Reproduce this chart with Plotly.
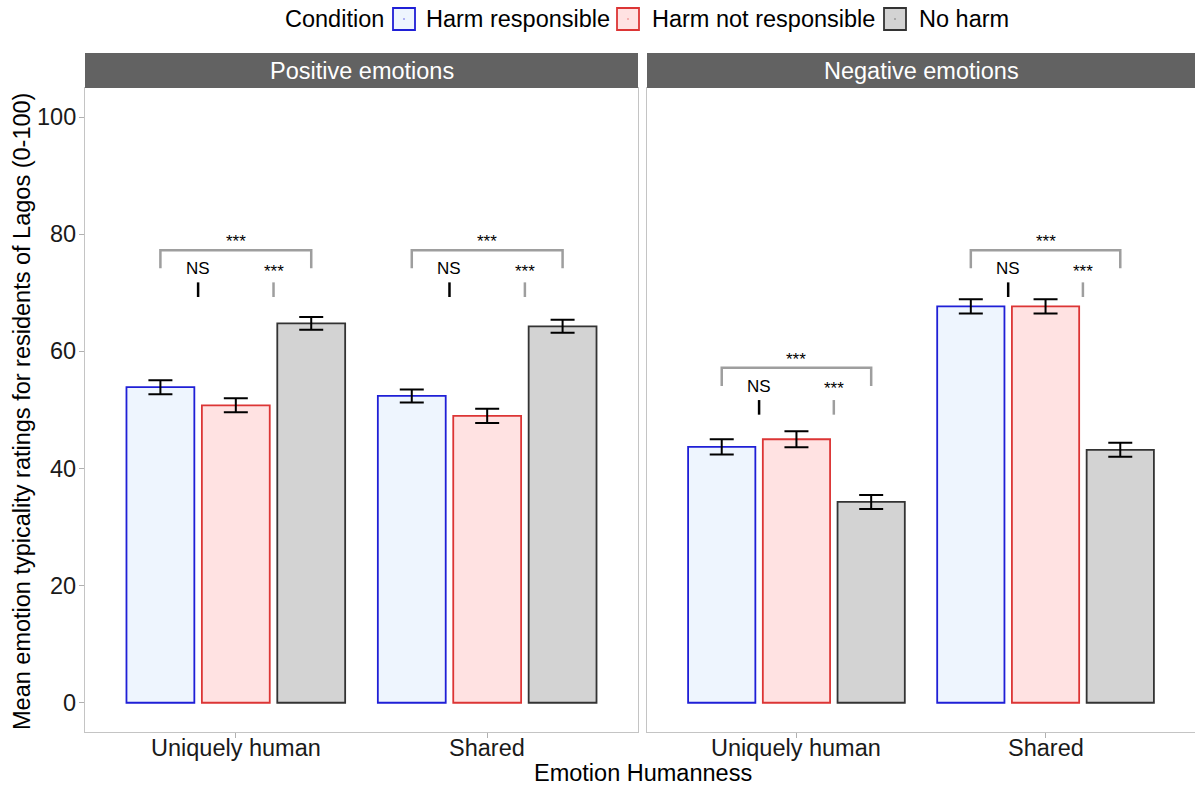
import plotly.graph_objects as go

# ---- data ----
panels = ["Positive emotions", "Negative emotions"]
categories = ["Uniquely human", "Shared"]
conditions = ["Harm responsible", "Harm not responsible", "No harm"]
y_ticks = [0, 20, 40, 60, 80, 100]

# mean ratings per panel, condition -> [Uniquely human, Shared]
pos_means = {
    "Harm responsible": [53.9, 52.4],
    "Harm not responsible": [50.8, 49.0],
    "No harm": [64.8, 64.3],
}
neg_means = {
    "Harm responsible": [43.7, 67.7],
    "Harm not responsible": [45.0, 67.7],
    "No harm": [34.3, 43.2],
}
pos_se = {
    "Harm responsible": [1.2, 1.1],
    "Harm not responsible": [1.2, 1.2],
    "No harm": [1.1, 1.1],
}
neg_se = {
    "Harm responsible": [1.3, 1.2],
    "Harm not responsible": [1.35, 1.2],
    "No harm": [1.2, 1.2],
}
means = [pos_means, neg_means]
ses = [pos_se, neg_se]

# significance brackets: top height per [panel][category]
bracket_top = [[77.3, 77.3], [57.2, 77.3]]
sig_labels = ["***", "NS", "***"]  # overall, resp vs not-resp, not-resp vs no-harm

fills = {"Harm responsible": "#EEF5FE", "Harm not responsible": "#FFE2E2", "No harm": "#D3D3D3"}
lines = {"Harm responsible": "#1F1FD6", "Harm not responsible": "#DC3535", "No harm": "#333333"}
dots = {"Harm responsible": "#9A9AF0", "Harm not responsible": "#F0A0A0", "No harm": "#9A9A9A"}

FONT = "Liberation Sans, Arial, sans-serif"
FS = 23.5
dodge = 0.3
bar_w = 0.27

fig = go.Figure()
xaxes = ["x", "x2"]
yaxes = ["y", "y2"]

for p in range(2):
    for ci, cond in enumerate(conditions):
        xs = [k + 1 + (ci - 1) * dodge for k in range(len(categories))]
        fig.add_trace(go.Bar(
            x=xs, y=means[p][cond], width=bar_w,
            marker=dict(color=fills[cond], line=dict(color=lines[cond], width=1.8)),
            error_y=dict(type="data", array=ses[p][cond], color="black", thickness=2, width=12),
            name=cond, showlegend=False,
            xaxis=xaxes[p], yaxis=yaxes[p],
        ))
    # brackets
    for k in range(len(categories)):
        T = bracket_top[p][k]
        c = k + 1
        xl, xm, xr = c - dodge, c, c + dodge
        gray = "#9E9E9E"
        fig.add_trace(go.Scatter(
            x=[xl, xl, xr, xr], y=[T - 3.1, T, T, T - 3.1], mode="lines",
            line=dict(color=gray, width=2.5), showlegend=False, hoverinfo="skip",
            xaxis=xaxes[p], yaxis=yaxes[p]))
        m1 = (xl + xm) / 2
        m2 = (xm + xr) / 2
        fig.add_trace(go.Scatter(
            x=[m1, m1], y=[T - 5.5, T - 8.0], mode="lines",
            line=dict(color="black", width=2.5), showlegend=False, hoverinfo="skip",
            xaxis=xaxes[p], yaxis=yaxes[p]))
        fig.add_trace(go.Scatter(
            x=[m2, m2], y=[T - 5.5, T - 8.0], mode="lines",
            line=dict(color=gray, width=2.5), showlegend=False, hoverinfo="skip",
            xaxis=xaxes[p], yaxis=yaxes[p]))
        fig.add_annotation(x=xm, y=T + 1.5, text=sig_labels[0], showarrow=False,
                           font=dict(size=17, color="black", family=FONT),
                           xref=xaxes[p], yref=yaxes[p], xanchor="center")
        fig.add_annotation(x=m1, y=T - 3.1, text=sig_labels[1], showarrow=False,
                           font=dict(size=17, color="black", family=FONT),
                           xref=xaxes[p], yref=yaxes[p], xanchor="center")
        fig.add_annotation(x=m2, y=T - 3.6, text=sig_labels[2], showarrow=False,
                           font=dict(size=17, color="black", family=FONT),
                           xref=xaxes[p], yref=yaxes[p], xanchor="center")

W, H = 1195, 785
ml, mr, mt, mb = 85, 0, 88, 53
pw = W - ml - mr
ph = H - mt - mb
d1 = [0, (638 - ml) / pw]
d2 = [(647 - ml) / pw, 1]
strip_top = 1 + 35 / ph


def px_x(px):
    return (px - ml) / pw


def px_y(py):
    return (H - mb - py) / ph


axis_common = dict(showgrid=False, zeroline=False, showline=True, mirror=True, automargin=False,
                   linecolor="#C4C4C4", linewidth=1, ticks="outside", tickcolor="#B0B0B0",
                   ticklen=5, showticklabels=False)

fig.update_layout(
    width=W, height=H,
    margin=dict(l=ml, r=mr, t=mt, b=mb, autoexpand=False),
    plot_bgcolor="white", paper_bgcolor="white",
    barmode="overlay",
    font=dict(family=FONT, color="black"),
    xaxis=dict(domain=d1, range=[0.4, 2.6], tickvals=[1, 2], anchor="y", **axis_common),
    xaxis2=dict(domain=d2, range=[0.4, 2.6], tickvals=[1, 2], anchor="y2", **axis_common),
    yaxis=dict(domain=[0, 1], range=[-5, 105], tickvals=y_ticks, anchor="x", **axis_common),
    yaxis2=dict(domain=[0, 1], range=[-5, 105], anchor="x2", showticklabels=False, ticks="", automargin=False,
                showgrid=False, zeroline=False, showline=True, mirror=True, linecolor="#C4C4C4", linewidth=1),
    showlegend=False,
)

# tick labels
for v in y_ticks:
    fig.add_annotation(xref="paper", yref="y", x=px_x(78), y=v, text=str(v), showarrow=False,
                       xanchor="right", yanchor="middle",
                       font=dict(size=FS, color="#1a1a1a", family=FONT))
for xr_ in ["x", "x2"]:
    for k, cat in enumerate(categories):
        fig.add_annotation(xref=xr_, yref="paper", x=k + 1, y=px_y(748), text=cat, showarrow=False,
                           xanchor="center", yanchor="middle",
                           font=dict(size=FS, color="#1a1a1a", family=FONT))

# facet strips
for dom, label in zip([d1, d2], panels):
    fig.add_shape(type="rect", xref="paper", yref="paper", x0=dom[0], x1=dom[1], y0=1, y1=strip_top,
                  fillcolor="#626262", line=dict(width=0), layer="above")
    fig.add_annotation(xref="paper", yref="paper", x=(dom[0] + dom[1]) / 2, y=(1 + strip_top) / 2,
                       text=label, showarrow=False, font=dict(size=FS, color="white", family=FONT),
                       xanchor="center", yanchor="middle")

# axis titles
fig.add_annotation(xref="paper", yref="paper", x=px_x(643), y=px_y(773),
                   text="Emotion Humanness", showarrow=False, yanchor="middle", xanchor="center",
                   font=dict(size=FS, color="black", family=FONT))
fig.add_annotation(xref="paper", yref="paper", x=px_x(22), y=px_y(412),
                   text="Mean emotion typicality ratings for residents of Lagos (0-100)", textangle=-90,
                   showarrow=False, yanchor="middle", xanchor="center",
                   font=dict(size=FS, color="black", family=FONT))

# custom legend (top)
leg_y = 19
fig.add_annotation(xref="paper", yref="paper", x=px_x(283), y=px_y(leg_y), text="Condition",
                   showarrow=False, xanchor="left", yanchor="middle",
                   font=dict(size=FS, color="black", family=FONT))
box_x = [393, 617, 884]
text_x = [424, 650, 917]
for cond, bx, tx in zip(conditions, box_x, text_x):
    fig.add_shape(type="rect", xref="paper", yref="paper",
                  x0=px_x(bx), x1=px_x(bx + 22), y0=px_y(leg_y + 11), y1=px_y(leg_y - 11),
                  fillcolor=fills[cond], line=dict(color=lines[cond], width=1.8))
    fig.add_shape(type="circle", xref="paper", yref="paper",
                  x0=px_x(bx + 10), x1=px_x(bx + 12), y0=px_y(leg_y + 1), y1=px_y(leg_y - 1),
                  fillcolor=dots[cond], line=dict(width=0))
    fig.add_annotation(xref="paper", yref="paper", x=px_x(tx), y=px_y(leg_y), text=cond,
                       showarrow=False, xanchor="left", yanchor="middle",
                       font=dict(size=FS, color="black", family=FONT))

fig.write_html("out.html", config={"displayModeBar": False},
               post_script="document.body.style.margin='0';document.body.style.overflow='hidden';")
